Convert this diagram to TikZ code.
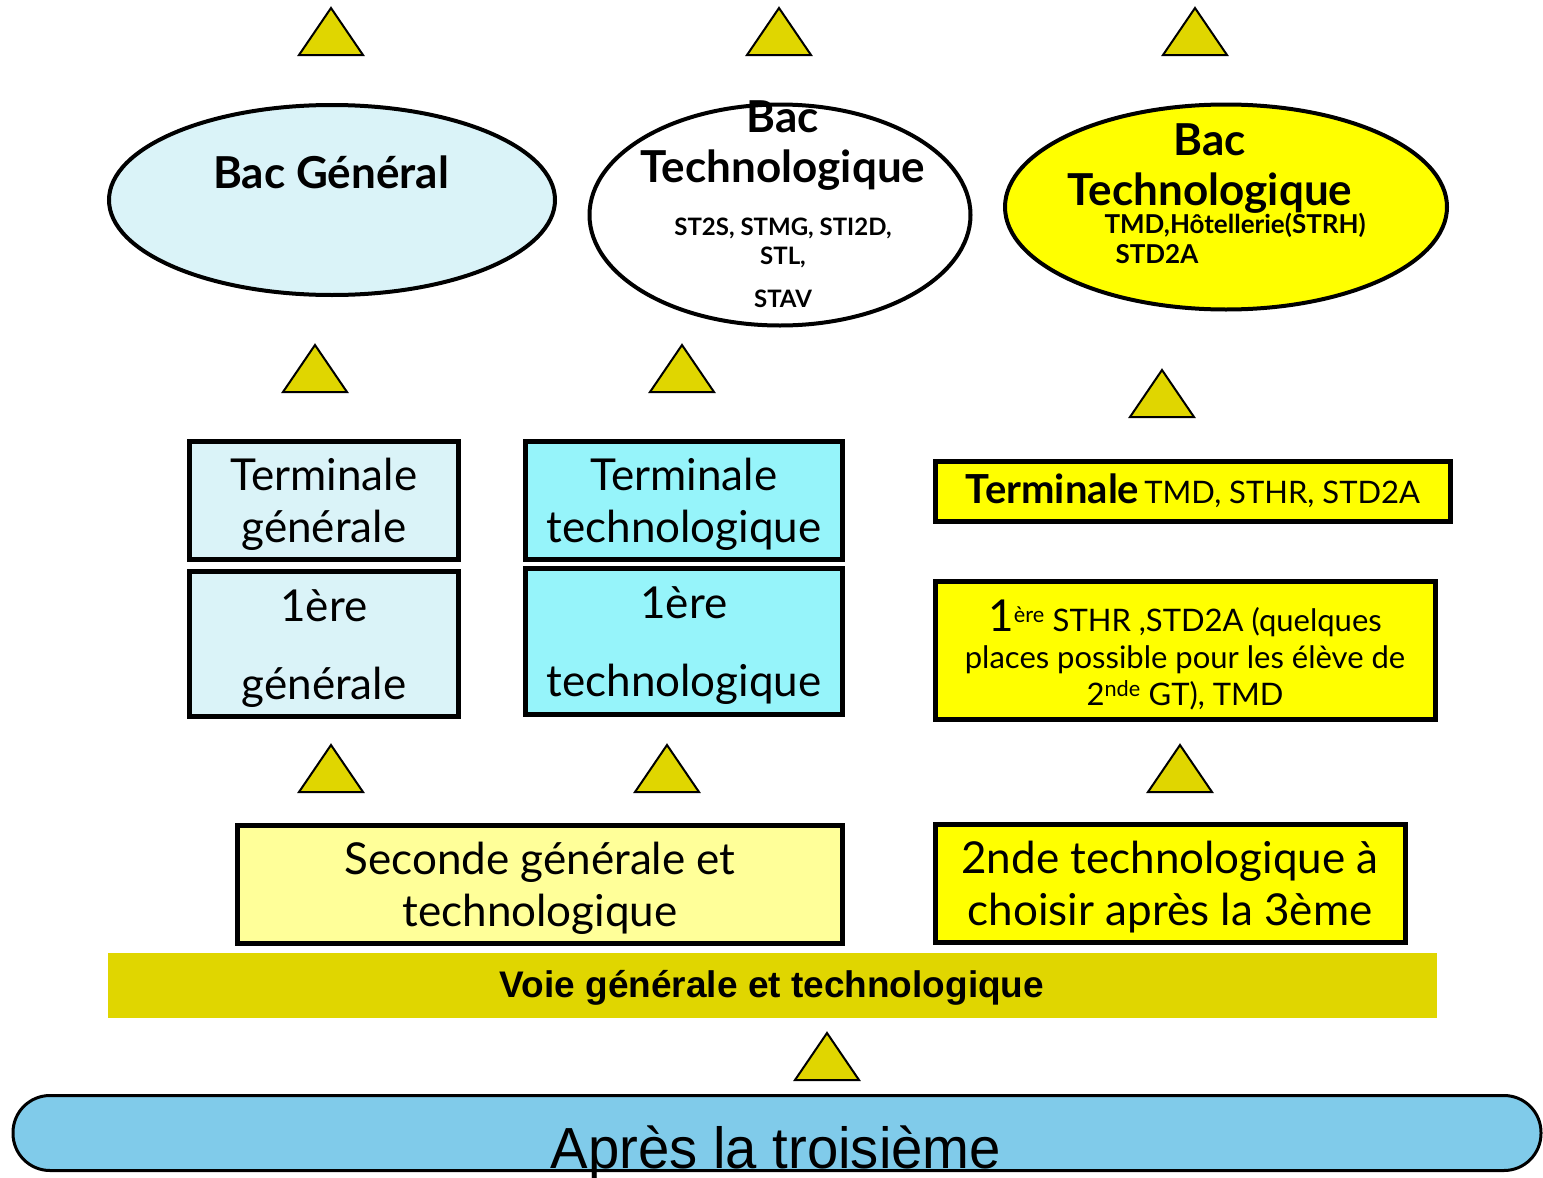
\documentclass[tikz,border=0pt]{standalone}
\usepackage{fontspec}
\usepackage{graphicx}
\setmainfont{Lato}
\newfontfamily\arialfont{Liberation Sans}
\usetikzlibrary{shapes.geometric,positioning}
\definecolor{palecyan}{RGB}{218,243,248}
\definecolor{brightcyan}{RGB}{150,244,250}
\definecolor{paleyellow}{RGB}{255,255,153}
\definecolor{pureyellow}{RGB}{255,255,0}
\definecolor{olivegold}{RGB}{224,214,0}
\definecolor{skyfill}{RGB}{128,203,234}
\newcommand{\lift}{\rule{0pt}{41pt}}
\begin{document}
\begin{tikzpicture}[x=1pt,y=-1pt,
    box/.style={draw, line width=5pt, align=center, inner sep=0pt},
    bac/.style={draw, ellipse, line width=4pt, inner sep=0pt},
    tri/.style={draw, line width=2pt, fill=olivegold, line join=miter},
    big/.style={font=\fontsize{44}{52}\selectfont},
    bigbold/.style={font=\fontsize{44}{50}\selectfont\bfseries, align=center},
    small/.style={font=\fontsize{24}{29}\selectfont\bfseries, align=center},
    mid/.style={font=\fontsize{31}{37}\selectfont}]
    \useasboundingbox (0,0) rectangle (1543,1178);
    \foreach \x/\y in {331/8, 779/8, 1195/8, 315/345, 682/345, 1162/370,
        331/745, 667/745, 1180/745, 827/1033}
        \draw[tri] (\x-32,\y+47) -- (\x,\y) -- (\x+32,\y+47) -- cycle;
    \node[bac, fill=palecyan, minimum width=446pt, minimum height=190pt] (bacg) at (332,200) {};
    \node[bigbold] (bacgtxt) at (331,172) {Bac Général};
    \node[bac, fill=white, minimum width=381pt, minimum height=221pt] (bact) at (780,215) {};
    \node[bigbold] (bacttxt) at (783,146) {Bac\\Technologique};
    \node[small] (bactsub) at (783,263) {ST2S, STMG, STI2D,\\STL,\\[14pt]STAV};
    \node[bac, fill=pureyellow, minimum width=442pt, minimum height=205pt] (bacy) at (1226,207) {};
    \node[bigbold] (bacytxt) at (1210,169) {Bac\\Technologique};
    \node[small, font=\fontsize{26}{29}\selectfont\bfseries, anchor=west] (bacysub) at (1101,225) {TMD,Hôtellerie(STRH)};
    \node[small, font=\fontsize{26}{29}\selectfont\bfseries, anchor=west] (bacysubb) at (1112,254) {STD2A};
    \node[box, big, fill=palecyan, minimum width=269pt, minimum height=118pt] (termg) at (324,500) {\lift Terminale\\générale};
    \node[box, big, fill=palecyan, minimum width=269pt, minimum height=145pt] (premg) at (324,644) {\lift 1ère\\[26pt]générale};
    \node[box, big, fill=brightcyan, minimum width=317pt, minimum height=118pt] (termt) at (684,500) {\lift Terminale\\technologique};
    \node[box, big, fill=brightcyan, minimum width=317pt, minimum height=146pt] (premt) at (684,641) {\lift 1ère\\[26pt]technologique};
    \node[box, fill=pureyellow, minimum width=515pt, minimum height=60pt] (termy) at (1193,491)
        {{\fontsize{40}{48}\selectfont\bfseries Terminale}\ \ {\fontsize{31}{37}\selectfont TMD, STHR, STD2A}};
    \node[box, mid, fill=pureyellow, minimum width=500pt, minimum height=138pt] (premy) at (1185,650)
        {\lift{\fontsize{44}{40}\selectfont 1}\textsuperscript{ère} STHR ,STD2A (quelques\\places possible pour les élève de\\2\textsuperscript{nde} GT), TMD};
    \node[box, big, fill=paleyellow, minimum width=605pt, minimum height=118pt] (seconde) at (540,884) {\lift Seconde générale et\\technologique};
    \node[box, big, fill=pureyellow, minimum width=470pt, minimum height=118pt] (secondet) at (1170,883) {\lift 2nde technologique à\\choisir après la 3ème};
    \node[fill=olivegold, minimum width=1329pt, minimum height=65pt, inner sep=0pt] (voie) at (772,985) {};
    \node[font=\arialfont\fontsize{37}{40}\selectfont\bfseries] (voietxt) at (772,988) {Voie générale et technologique};
    \node[draw, line width=3pt, fill=skyfill, rounded corners=37pt, minimum width=1528pt,
        minimum height=75pt] (apres) at (777,1133) {};
    \node[anchor=base, font=\arialfont\fontsize{58}{60}\selectfont] (aprestxt) at (776,1168)
        {\scalebox{0.97}[1]{Après la troisième}};
\end{tikzpicture}
\end{document}
